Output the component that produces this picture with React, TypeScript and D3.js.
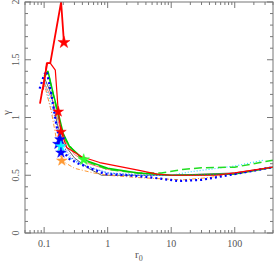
import React from "react";
import * as d3 from "d3";

const W = 275;
const H = 267;
const M = { left: 25, right: 2, top: 2, bottom: 34 };

const xTicks = [0.1, 1, 10, 100];
const xTickLabels = ["0.1", "1", "10", "100"];
const yTicks = [0, 0.5, 1, 1.5, 2];
const yTickLabels = ["0", "0.5", "1", "1.5", "2"];

type P = [number, number];

const redThick: P[] = [[0.086, 1.12], [0.112, 1.47], [0.125, 1.47], [0.185, 2.0], [0.205, 1.65]];
const redThin: P[] = [[0.097, 1.24], [0.109, 1.47], [0.125, 1.47], [0.15, 1.41], [0.167, 1.05], [0.184, 0.88], [0.227, 0.74], [0.39, 0.66], [0.75, 0.61], [3, 0.545], [6, 0.51], [10, 0.5], [50, 0.5], [100, 0.52], [400, 0.57]];
const pinkThin: P[] = [[0.1, 1.3], [0.135, 1.15], [0.17, 0.95], [0.21, 0.8], [0.3, 0.68], [0.5, 0.6], [1, 0.55], [3, 0.52], [10, 0.5], [100, 0.51], [400, 0.57]];
const greenSolid: P[] = [[0.1, 1.36], [0.115, 1.4], [0.14, 1.2], [0.17, 1.02], [0.2, 0.86], [0.25, 0.75], [0.42, 0.635], [1, 0.56], [3, 0.52], [10, 0.5], [100, 0.51], [400, 0.57]];
const greenDashed: P[] = [[0.1, 1.35], [0.115, 1.39], [0.15, 1.12], [0.2, 0.83], [0.3, 0.7], [0.42, 0.63], [1, 0.55], [3, 0.52], [7, 0.52], [15, 0.55], [30, 0.565], [100, 0.57], [400, 0.63]];
const blueDotted: P[] = [[0.085, 1.25], [0.1, 1.37], [0.11, 1.4], [0.13, 1.2], [0.16, 0.9], [0.19, 0.72], [0.25, 0.64], [0.35, 0.6], [0.6, 0.55], [0.9, 0.51], [2, 0.5], [5, 0.48], [13, 0.45], [30, 0.46], [100, 0.51], [400, 0.57]];
const blueThin: P[] = [[0.095, 1.3], [0.12, 1.3], [0.15, 1.0], [0.178, 0.81], [0.25, 0.66], [0.5, 0.57], [1, 0.52], [3, 0.5], [10, 0.5], [100, 0.51], [400, 0.57]];
const cyanDotted: P[] = [[0.1, 1.32], [0.15, 1.0], [0.184, 0.75], [0.25, 0.65], [0.5, 0.57], [1, 0.52], [3, 0.5], [10, 0.5], [20, 0.53], [100, 0.58], [280, 0.63]];
const orangeDashDot: P[] = [[0.09, 1.2], [0.1, 1.3], [0.13, 1.05], [0.16, 0.78], [0.19, 0.626], [0.3, 0.56], [0.6, 0.52], [1, 0.5], [3, 0.48], [15, 0.46], [40, 0.48], [100, 0.52], [400, 0.57]];
const greySolid: P[] = [[0.1, 1.35], [0.13, 1.2], [0.16, 0.95], [0.2, 0.78], [0.3, 0.65], [0.5, 0.56], [0.8, 0.5], [10, 0.5], [100, 0.52], [400, 0.57]];
const purpleDotted: P[] = [[0.098, 1.3], [0.14, 1.0], [0.18, 0.8], [0.3, 0.62], [1, 0.52], [10, 0.5], [100, 0.51], [400, 0.57]];

const series = [
  { data: purpleDotted, color: "#9a8cff", width: 1, dash: "1,2" },
  { data: greySolid, color: "#666666", width: 1, dash: "" },
  { data: pinkThin, color: "#ff7070", width: 1, dash: "" },
  { data: orangeDashDot, color: "#ff9933", width: 1, dash: "4,2,1,2" },
  { data: cyanDotted, color: "#33ddff", width: 1.2, dash: "1,2" },
  { data: greenDashed, color: "#22dd22", width: 1.5, dash: "8,4" },
  { data: greenSolid, color: "#00cc00", width: 1.5, dash: "" },
  { data: blueThin, color: "#3333ff", width: 1, dash: "1,2" },
  { data: blueDotted, color: "#0000ff", width: 2.2, dash: "2,3" },
  { data: redThin, color: "#ff0000", width: 1.2, dash: "" },
  { data: redThick, color: "#ff0000", width: 1.8, dash: "" },
];

const starsX = [0.205, 0.167, 0.184, 0.178, 0.165, 0.184, 0.184, 0.19, 0.42];
const starsY = [1.65, 1.05, 0.875, 0.81, 0.77, 0.75, 0.695, 0.626, 0.635];
const starsColor = ["#ff0000", "#ff0000", "#ff0000", "#0000ff", "#0000ff", "#00ffff", "#0000ff", "#ff9933", "#33ff33"];
const starsSize = [45, 35, 35, 35, 35, 35, 35, 35, 40];

export default function App() {
  const x = d3.scaleLog().domain([0.05, 400]).range([M.left, W - M.right]);
  const y = d3.scaleLinear().domain([0, 2]).range([H - M.bottom, M.top]);
  const line = d3.line<P>().x((d) => x(d[0])).y((d) => y(d[1]));
  const x0 = M.left, x1 = W - M.right, y0 = H - M.bottom, y1 = M.top;

  const minorX: number[] = [];
  for (let e = -2; e <= 2; e++) {
    for (let k = 1; k <= 9; k++) {
      const v = k * Math.pow(10, e);
      if (v >= 0.05 && v <= 400 && k !== 1) minorX.push(v);
    }
  }
  const minorY = d3.range(0, 2.001, 0.1).filter((v) => Math.abs(v * 2 - Math.round(v * 2)) > 1e-6);
  const axisColor = "#777";
  const font = "'Liberation Serif', 'DejaVu Serif', serif";
  const star = d3.symbol().type(d3.symbolStar);

  return (
    <svg width={W} height={H} style={{ position: "absolute", left: 0, top: 0, background: "#fff" }}>
      <defs>
        <clipPath id="plot">
          <rect x={x0} y={y1} width={x1 - x0} height={y0 - y1} />
        </clipPath>
      </defs>
      <g clipPath="url(#plot)">
        {series.map((s, i) => (
          <path key={i} d={line(s.data) || ""} fill="none" stroke={s.color} strokeWidth={s.width} strokeDasharray={s.dash} strokeLinejoin="round" />
        ))}
        {starsX.map((v, i) => (
          <path key={"s" + i} d={star.size(starsSize[i])() || ""} transform={`translate(${x(v)},${y(starsY[i])})`} fill={starsColor[i]} stroke={starsColor[i]} strokeWidth={0.5} />
        ))}
      </g>
      <rect x={x0} y={y1} width={x1 - x0} height={y0 - y1} fill="none" stroke={axisColor} strokeWidth={1} />
      {xTicks.map((v, i) => (
        <g key={"xt" + i}>
          <line x1={x(v)} x2={x(v)} y1={y0} y2={y0 - 6} stroke={axisColor} />
          <line x1={x(v)} x2={x(v)} y1={y1} y2={y1 + 6} stroke={axisColor} />
          <text x={x(v)} y={y0 + 14} fontSize={10} fontFamily={font} fill="#555" textAnchor="middle">{xTickLabels[i]}</text>
        </g>
      ))}
      {minorX.map((v, i) => (
        <g key={"xm" + i}>
          <line x1={x(v)} x2={x(v)} y1={y0} y2={y0 - 3} stroke={axisColor} />
          <line x1={x(v)} x2={x(v)} y1={y1} y2={y1 + 3} stroke={axisColor} />
        </g>
      ))}
      {yTicks.map((v, i) => (
        <g key={"yt" + i}>
          <line x1={x0} x2={x0 + 6} y1={y(v)} y2={y(v)} stroke={axisColor} />
          <line x1={x1} x2={x1 - 6} y1={y(v)} y2={y(v)} stroke={axisColor} />
          <text transform={`translate(${x0 - 6},${y(v)}) rotate(-90)`} fontSize={10} fontFamily={font} fill="#555" textAnchor="middle">{yTickLabels[i]}</text>
        </g>
      ))}
      {minorY.map((v, i) => (
        <g key={"ym" + i}>
          <line x1={x0} x2={x0 + 3} y1={y(v)} y2={y(v)} stroke={axisColor} />
          <line x1={x1} x2={x1 - 3} y1={y(v)} y2={y(v)} stroke={axisColor} />
        </g>
      ))}
      <text transform={`translate(10,${y(1.0) - 5}) rotate(-90)`} fontSize={11} fontFamily={font} fill="#555" textAnchor="middle">γ</text>
      <text x={135} y={258} fontSize={11} fontFamily={font} fill="#555">r<tspan fontSize={8} dy={3}>0</tspan></text>
    </svg>
  );
}
